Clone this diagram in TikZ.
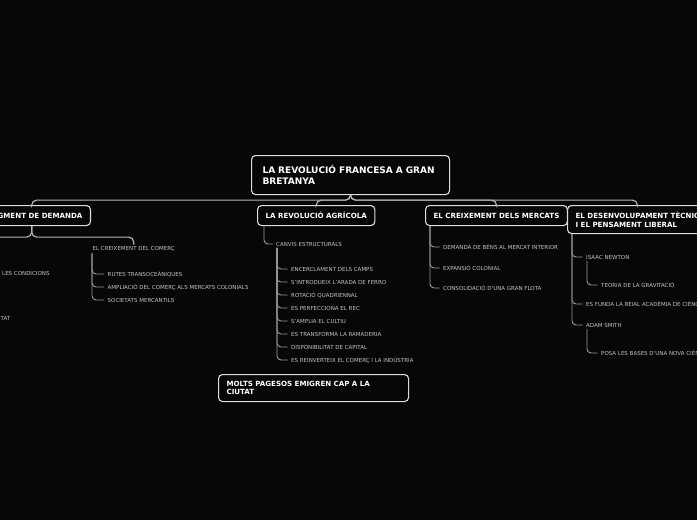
\documentclass[tikz,border=0pt]{standalone}
\usepackage{fontspec}
\setmainfont{DejaVu Sans}
\usetikzlibrary{positioning}
\definecolor{bgdark}{HTML}{060709}
\definecolor{edgegray}{HTML}{B4B4B4}
\definecolor{twiggray}{HTML}{9A9A9A}
\definecolor{boxline}{HTML}{DCDCDC}
\definecolor{leaftext}{HTML}{C4C4C4}

\begin{document}
\begin{tikzpicture}[x=1pt, y=-1pt,
  topic/.style={draw=boxline, line width=1.1pt, fill=bgdark, rounded corners=4pt,
    text=white, font=\bfseries\fontsize{7.1}{9}\selectfont, inner xsep=8pt,
    anchor=north west, minimum height=20pt, align=left},
  central/.style={topic, font=\bfseries\fontsize{9}{11}\selectfont, inner xsep=11pt,
    text width=176pt, minimum height=39pt},
  leaf/.style={text=leaftext, font=\fontsize{5.5}{6}\selectfont, inner sep=1.5pt, anchor=west},
  link/.style={draw=edgegray, line width=1.2pt, rounded corners=5pt},
  twig/.style={draw=twiggray, line width=0.9pt, rounded corners=4pt, shorten >=2pt}]

  \fill[bgdark] (0,0) rectangle (697,520);
  \useasboundingbox (0,0) rectangle (697,520);

  % Central topic
  \node[central] (rev) at (251,155) {LA REVOLUCIÓ FRANCESA A GRAN\\BRETANYA};

  % Main topics
  \node[topic, anchor=north east] (aug) at (91,205) {L'AUGMENT DE DEMANDA};
  \node[topic] (agri) at (257,205) {LA REVOLUCIÓ AGRÍCOLA};
  \node[topic] (merc) at (425,205) {EL CREIXEMENT DELS MERCATS};
  \node[topic, minimum height=28pt] (dese) at (567,205)
    {EL DESENVOLUPAMENT TÈCNIC\\I EL PENSAMENT LIBERAL};

  \draw[link] (rev.south) -- ++(0,5) -| (aug.north);
  \draw[link] (rev.south) -- ++(0,5) -| (agri.north);
  \draw[link] (rev.south) -- ++(0,5) -| (merc.north);
  \draw[link] (rev.south) -- ++(0,5) -| (dese.north);

  % L'augment de demanda
  \coordinate (offleft) at (-40,249);
  \node[leaf] (comerc) at (91,249) {EL CREIXEMENT DEL COMERÇ};
  \node[leaf] (rutes) at (106,274) {RUTES TRANSOCEÀNIQUES};
  \node[leaf] (ampl) at (106,287) {AMPLIACIÓ DEL COMERÇ ALS MERCATS COLONIALS};
  \node[leaf] (soc) at (106,300) {SOCIETATS MERCANTILS};
  \node[leaf] (cond) at (0.5,273) {LES CONDICIONS};
  \node[leaf, anchor=east] (tat) at (12,318) {TAT};

  \draw[link] (aug.south) -- ++(0,11) -| (offleft);
  \draw[link] (aug.south) -- ++(0,11) -| (comerc.north);
  \draw[twig] ([xshift=1pt]comerc.south west) |- (rutes.west);
  \draw[twig] ([xshift=1pt]comerc.south west) |- (ampl.west);
  \draw[twig] ([xshift=1pt]comerc.south west) |- (soc.west);

  % La revolucio agricola
  \node[leaf] (canvis) at (274.5,244) {CANVIS ESTRUCTURALS};
  \node[leaf] (enc) at (289.5,269) {ENCERCLAMENT DELS CAMPS};
  \node[leaf] (arada) at (289.5,282) {S'INTRODUEIX L'ARADA DE FERRO};
  \node[leaf] (rot) at (289.5,295) {ROTACIÓ QUADRIENNAL};
  \node[leaf] (rec) at (289.5,308) {ES PERFECCIONA EL REC};
  \node[leaf] (cult) at (289.5,321) {S'AMPLIA EL CULTIU};
  \node[leaf] (ramad) at (289.5,334) {ES TRANSFORMA LA RAMADERIA};
  \node[leaf] (capit) at (289.5,347) {DISPONIBILITAT DE CAPITAL};
  \node[leaf] (reinv) at (289.5,360) {ES REINVERTEIX EL COMERÇ I LA INDÚSTRIA};

  \draw[twig] ([xshift=7pt]agri.south west) |- (canvis.west);
  \draw[twig] ([xshift=2.5pt]canvis.south west) |- (enc.west);
  \draw[twig] ([xshift=2.5pt]canvis.south west) |- (arada.west);
  \draw[twig] ([xshift=2.5pt]canvis.south west) |- (rot.west);
  \draw[twig] ([xshift=2.5pt]canvis.south west) |- (rec.west);
  \draw[twig] ([xshift=2.5pt]canvis.south west) |- (cult.west);
  \draw[twig] ([xshift=2.5pt]canvis.south west) |- (ramad.west);
  \draw[twig] ([xshift=2.5pt]canvis.south west) |- (capit.west);
  \draw[twig] ([xshift=2.5pt]canvis.south west) |- (reinv.west);

  \node[topic, text width=174pt, minimum height=27pt, font=\bfseries\fontsize{7.1}{8.5}\selectfont]
    (pages) at (218,374) {MOLTS PAGESOS EMIGREN CAP A LA\\CIUTAT};

  % El creixement dels mercats
  \node[leaf] (bens) at (441.5,247) {DEMANDA DE BÉNS AL MERCAT INTERIOR};
  \node[leaf] (colon) at (441.5,268) {EXPANSIÓ COLONIAL};
  \node[leaf] (flota) at (441.5,288) {CONSOLIDACIÓ D'UNA GRAN FLOTA};

  \draw[twig] ([xshift=5pt]merc.south west) |- (bens.west);
  \draw[twig] ([xshift=5pt]merc.south west) |- (colon.west);
  \draw[twig] ([xshift=5pt]merc.south west) |- (flota.west);

  % El desenvolupament tecnic
  \node[leaf] (newton) at (584.5,257) {ISAAC NEWTON};
  \node[leaf] (grav) at (599.5,285) {TEORIA DE LA GRAVITACIÓ};
  \node[leaf] (acad) at (584.5,304) {ES FUNDA LA REIAL ACADÈMIA DE CIÈNCIES};
  \node[leaf] (smith) at (584.5,325) {ADAM SMITH};
  \node[leaf] (bases) at (599.5,353) {POSA LES BASES D'UNA NOVA CIÈNCIA};

  \draw[twig] ([xshift=5pt]dese.south west) |- (newton.west);
  \draw[twig] ([xshift=5pt]dese.south west) |- (acad.west);
  \draw[twig] ([xshift=5pt]dese.south west) |- (smith.west);
  \draw[twig] ([xshift=2.5pt]newton.south west) |- (grav.west);
  \draw[twig] ([xshift=2.5pt]smith.south west) |- (bases.west);
\end{tikzpicture}
\end{document}
